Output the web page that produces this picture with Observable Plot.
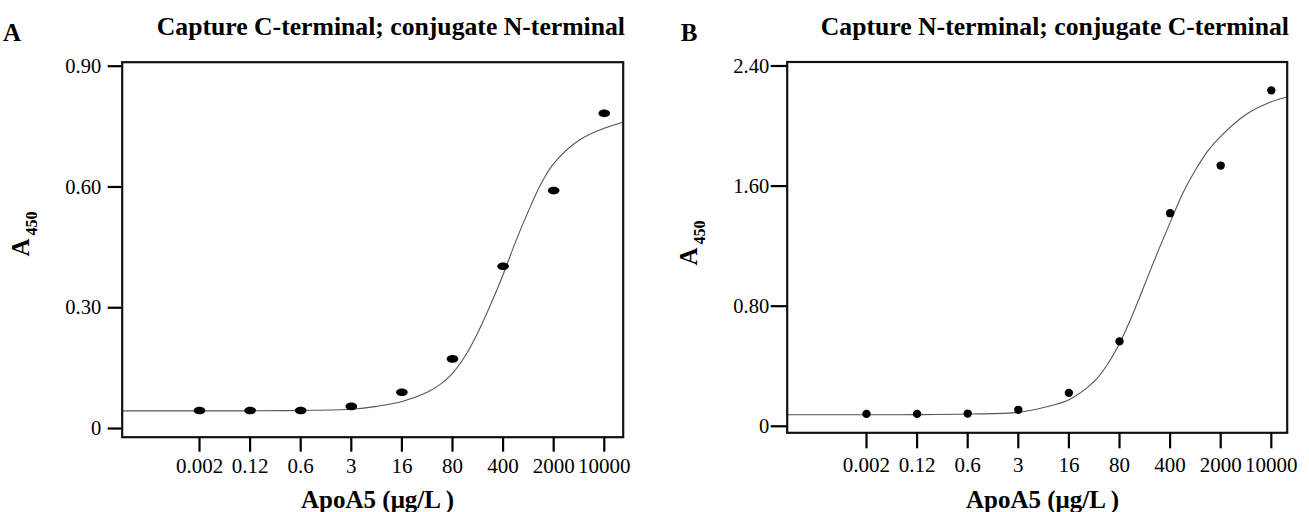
<!DOCTYPE html>
<html>
<head>
<meta charset="utf-8">
<script src="https://cdn.jsdelivr.net/npm/d3@7"></script>
<script src="https://cdn.jsdelivr.net/npm/@observablehq/plot@0.6"></script>
<style>
  html, body { margin: 0; padding: 0; background: #fff; }
  #wrap { display: flex; width: 1309px; height: 512px; }
  svg { display: block; }
</style>
</head>
<body>
<div id="wrap"></div>
<script>
// ---- data ----
const concLabels = ["0.002", "0.12", "0.6", "3", "16", "80", "400", "2000", "10000"];
const concIndex = [0, 1, 2, 3, 4, 5, 6, 7, 8];

// Panel A: capture C-terminal; conjugate N-terminal
const valuesA = [0.035, 0.035, 0.035, 0.045, 0.080, 0.163, 0.393, 0.581, 0.773];
const fitXA = [-1.53, 0, 1, 2, 3, 3.5, 4, 4.5, 4.75, 5, 5.25, 5.5, 5.75, 6, 6.25, 6.5, 6.75, 7, 7.5, 8, 8.37];
const fitYA = [0.034, 0.034, 0.034, 0.035, 0.038, 0.045, 0.057, 0.080, 0.099, 0.127, 0.170, 0.228, 0.297, 0.372, 0.455, 0.530, 0.598, 0.648, 0.706, 0.736, 0.751];
const yTicksA = [0, 0.3, 0.6, 0.9];

// Panel B: capture N-terminal; conjugate C-terminal
const valuesB = [0.056, 0.056, 0.058, 0.083, 0.196, 0.539, 1.393, 1.71, 2.211];
const fitXB = [-1.57, 0, 1, 2, 3, 3.5, 4, 4.5, 4.75, 5, 5.25, 5.5, 5.75, 6, 6.25, 6.5, 6.75, 7, 7.5, 8, 8.31];
const fitYB = [0.05, 0.05, 0.051, 0.055, 0.066, 0.098, 0.150, 0.272, 0.380, 0.525, 0.710, 0.920, 1.130, 1.330, 1.525, 1.680, 1.810, 1.905, 2.050, 2.135, 2.167];
const yTicksB = [0, 0.8, 1.6, 2.4];

const titleA = "Capture C-terminal; conjugate N-terminal";
const titleB = "Capture N-terminal; conjugate C-terminal";
const xLabel = "ApoA5 (\u03bcg/L )";

const FONT = "'Liberation Serif', 'Times New Roman', 'DejaVu Serif', serif";

// elliptical dot symbol (panel A dots are wider than tall)
function ellipseSymbol(rx, ry) {
  const k = 0.5523;
  return {
    draw(ctx) {
      ctx.moveTo(rx, 0);
      ctx.bezierCurveTo(rx, ry * k, rx * k, ry, 0, ry);
      ctx.bezierCurveTo(-rx * k, ry, -rx, ry * k, -rx, 0);
      ctx.bezierCurveTo(-rx, -ry * k, -rx * k, -ry, 0, -ry);
      ctx.bezierCurveTo(rx * k, -ry, rx, -ry * k, rx, 0);
      ctx.closePath();
    }
  };
}

function panel(cfg) {
  const pts = concIndex.map((i) => ({x: i, y: cfg.values[i]}));
  const fit = cfg.fitX.map((x, i) => ({x, y: cfg.fitY[i]}));
  const yFmt = (d) => (d === 0 ? "0" : d.toFixed(2));
  const svg = Plot.plot({
    width: cfg.width,
    height: 512,
    marginTop: cfg.mt,
    marginBottom: cfg.mb,
    marginLeft: cfg.ml,
    marginRight: cfg.mr,
    style: {fontFamily: FONT, fontSize: "20px", color: "#000", background: "#fff"},
    x: {type: "linear", domain: cfg.xDomain},
    y: {type: "linear", domain: cfg.yDomain},
    marks: [
      Plot.line(fit, {x: "x", y: "y", curve: "catmull-rom", stroke: "#555", strokeWidth: 1.1}),
      Plot.dot(pts, {x: "x", y: "y", symbol: cfg.symbol, r: cfg.r, fill: "#000", stroke: "none"}),
      Plot.frame({stroke: "#111", strokeWidth: 2.2}),
      Plot.axisX({
        ticks: concIndex,
        tickFormat: (d) => concLabels[d],
        tickSize: cfg.xTickSize,
        tickPadding: cfg.xTickPad,
        strokeWidth: 2.2,
        label: null,
        fontSize: 21
      }),
      Plot.axisY({
        ticks: cfg.yTicks,
        tickFormat: yFmt,
        tickSize: cfg.yTickSize,
        tickPadding: cfg.yTickPad,
        strokeWidth: 2.2,
        label: null,
        dy: 4,
        fontSize: 20.5
      })
    ]
  });
  const s = d3.select(svg);
  // panel letter
  s.append("text").attr("x", cfg.letterX).attr("y", 41)
    .attr("font-family", FONT).attr("font-weight", "bold").attr("font-size", 25)
    .attr("fill", "#000").text(cfg.letter);
  // title
  s.append("text").attr("x", cfg.titleEnd).attr("y", 34.5).attr("text-anchor", "end")
    .attr("font-family", FONT).attr("font-weight", "bold").attr("font-size", 25.7)
    .attr("fill", "#000").text(cfg.title);
  // y label A450 with subscript
  const yl = s.append("text")
    .attr("transform", `translate(${cfg.yLabX},${cfg.yLabY}) rotate(-90)`)
    .attr("text-anchor", "middle")
    .attr("font-family", FONT).attr("font-weight", "bold").attr("fill", "#000");
  yl.append("tspan").attr("font-size", 25).text("A");
  yl.append("tspan").attr("font-size", 16).attr("dx", 3).attr("dy", 8).text("450");
  // x label
  s.append("text").attr("x", cfg.xLabX).attr("y", 507.5).attr("text-anchor", "middle")
    .attr("font-family", FONT).attr("font-weight", "bold").attr("font-size", 25)
    .attr("fill", "#000").text(xLabel);
  return svg;
}

const wrap = document.getElementById("wrap");
wrap.appendChild(panel({
  width: 654, mt: 61.7, mb: 75.3, ml: 121.7, mr: 31.3,
  xDomain: [-1.528, 8.374], yDomain: [-0.0315, 0.9],
  values: valuesA, fitX: fitXA, fitY: fitYA, yTicks: yTicksA,
  symbol: ellipseSymbol(5.8, 3.8), r: 4,
  xTickSize: 15, xTickPad: 6, yTickSize: 14, yTickPad: 7,
  letter: "A", letterX: 12, title: titleA, titleEnd: 625,
  yLabX: 28.5, yLabY: 234, xLabX: 377.6
}));
wrap.appendChild(panel({
  width: 655, mt: 61.5, mb: 79.7, ml: 132.7, mr: 22.3,
  xDomain: [-1.567, 8.314], yDomain: [-0.07, 2.4],
  values: valuesB, fitX: fitXB, fitY: fitYB, yTicks: yTicksB,
  symbol: "circle", r: 4.2,
  xTickSize: 16, xTickPad: 8, yTickSize: 16, yTickPad: 2,
  letter: "B", letterX: 35, title: titleB, titleEnd: 635,
  yLabX: 42.5, yLabY: 243, xLabX: 388.5
}));
</script>
</body>
</html>
